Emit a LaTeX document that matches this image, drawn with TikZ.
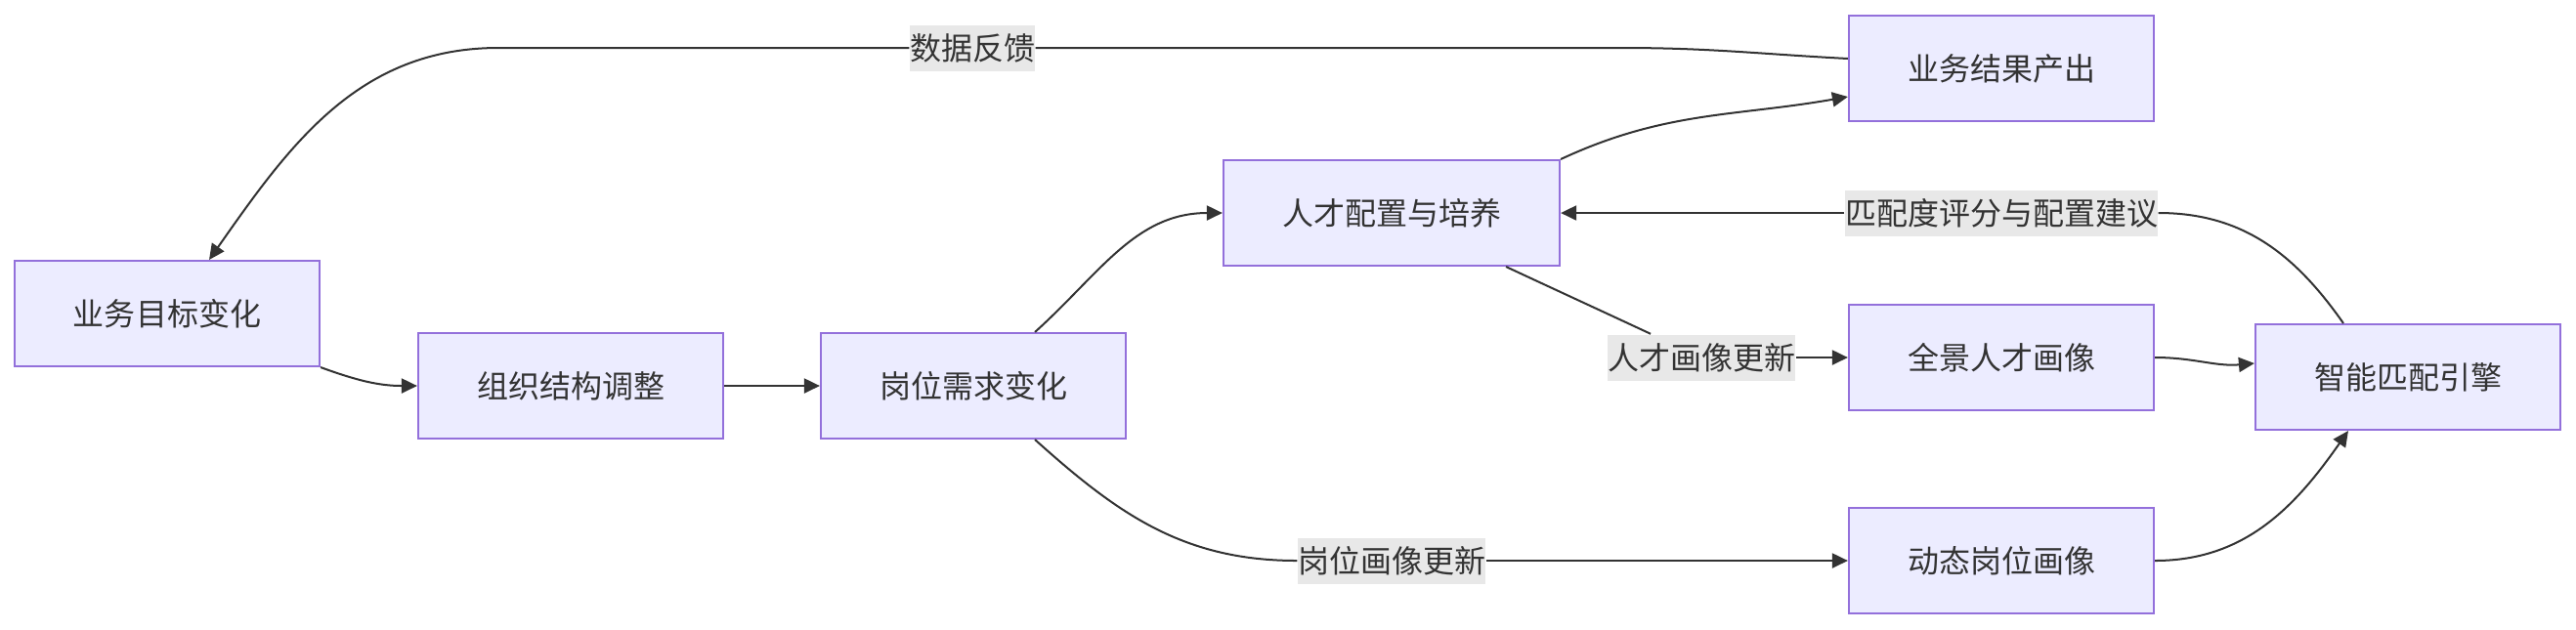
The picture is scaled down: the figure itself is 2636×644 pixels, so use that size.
\documentclass[tikz,border=0pt]{standalone}
\usepackage{fontspec}
\newfontfamily\cjk{Noto Sans CJK SC}
\usetikzlibrary{arrows.meta}
\definecolor{nodefill}{HTML}{ECECFF}
\definecolor{nodeline}{HTML}{9370DB}
\definecolor{edgeline}{HTML}{333333}
\definecolor{lblfill}{HTML}{E8E8E8}

\begin{document}
\begin{tikzpicture}[x=0.01cm,y=-0.01cm,
  box/.style={draw=nodeline,fill=nodefill,line width=0.57pt,minimum width=3.12cm,minimum height=1.08cm,inner sep=0pt,text=edgeline,font=\cjk\fontsize{9.1}{11}\selectfont},
  lbl/.style={fill=lblfill,inner xsep=0pt,inner ysep=0pt,minimum height=0.47cm,text=edgeline,font=\cjk\fontsize{9.1}{11}\selectfont},
  link/.style={draw=edgeline,line width=0.57pt,-{Triangle[length=0.16cm,width=0.15cm]}},
  plain/.style={draw=edgeline,line width=0.57pt}]
\useasboundingbox (0,0) rectangle (2636,644);
\node[box] (A) at (171,321) {业务目标变化};
\node[box] (B) at (584,395) {组织结构调整};
\node[box] (C) at (996,395) {岗位需求变化};
\node[box,minimum width=3.44cm] (D) at (1424,218) {人才配置与培养};
\node[box] (E) at (2048,70) {业务结果产出};
\node[box] (F) at (2048,366) {全景人才画像};
\node[box] (G) at (2048,574) {动态岗位画像};
\node[box] (H) at (2464,386) {智能匹配引擎};
\node[lbl] (lblData) at (995,49) {数据反馈};
\node[lbl] (lblMatch) at (2048,218) {匹配度评分与配置建议};
\node[lbl] (lblTal) at (1741,366) {人才画像更新};
\node[lbl] (lblJob) at (1424,574) {岗位画像更新};
\draw[link] (A.south east) to[out=-20,in=180] (B.west);
\draw[link] (B) -- (C);
\draw[link] ([xshift=0.63cm]C.north) to[out=42,in=180] (D.west);
\draw[plain] ([xshift=0.63cm]C.south) to[out=-42,in=180] (lblJob);
\draw[link] (lblJob) -- (G);
\draw[link] (D.north east) to[out=25,in=190] ([yshift=-0.29cm]E.west);
\draw[plain] ([xshift=1.17cm]D.south) to[out=-25,in=155] (lblTal);
\draw[link] (lblTal) -- (F);
\draw[link] (F.east) to[out=0,in=185] ([yshift=0.14cm]H.west);
\draw[link] (G.east) to[out=0,in=-125] ([xshift=-0.61cm]H.south);
\draw[plain] ([xshift=-0.66cm]H.north) to[out=125,in=0] (lblMatch);
\draw[link] (lblMatch) -- (D);
\draw[plain] ([yshift=0.1cm]E.west) to[out=177,in=0] ([xshift=6cm]lblData.east) -- (lblData);
\draw[link] (lblData) -- ([xshift=-4.2cm]lblData.west) to[out=180,in=55] ([xshift=0.43cm]A.north);
\end{tikzpicture}
\end{document}
